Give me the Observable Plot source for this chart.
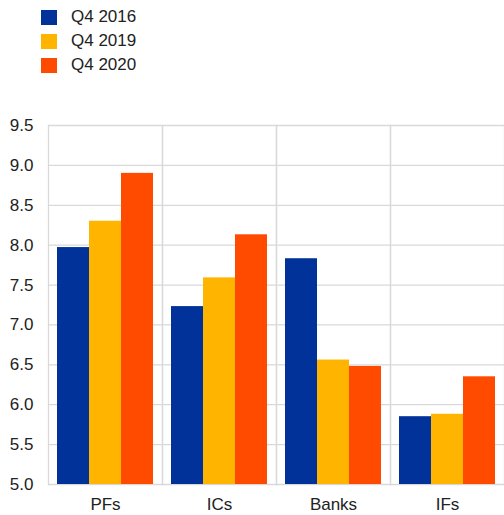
<!DOCTYPE html>
<html>
<head>
<meta charset="utf-8">
<script src="https://cdn.jsdelivr.net/npm/d3@7"></script>
<script src="https://cdn.jsdelivr.net/npm/@observablehq/plot@0.6"></script>
<style>
  html, body { margin: 0; padding: 0; background: #fff; }
  body { width: 504px; height: 515px; overflow: hidden; font-family: Arial, "Liberation Sans", sans-serif; color: #222; }
  #legend { position: relative; height: 90px; }
  .row { position: absolute; left: 41px; height: 16px; display: flex; align-items: center; font-size: 17px; }
  .sw { width: 16px; height: 15px; margin-right: 14px; }
  svg { display: block; }
</style>
</head>
<body>
<div id="legend"></div>
<div id="chart"></div>
<script>
const groups = ["PFs", "ICs", "Banks", "IFs"];
const series = ["Q4 2016", "Q4 2019", "Q4 2020"];
const q4_2016 = [7.97, 7.23, 7.83, 5.85];
const q4_2019 = [8.30, 7.59, 6.56, 5.88];
const q4_2020 = [8.90, 8.13, 6.48, 6.35];
const yTicks = [5.0, 5.5, 6.0, 6.5, 7.0, 7.5, 8.0, 8.5, 9.0, 9.5];
const yMin = 5.0, yMax = 9.5;
const colors = ["#003299", "#ffb400", "#ff4b00"];

const values = [q4_2016, q4_2019, q4_2020];
const data = [];
groups.forEach((g, gi) => series.forEach((s, si) => data.push({group: g, series: s, value: values[si][gi]})));

// legend
const legend = document.getElementById("legend");
series.forEach((s, i) => {
  const row = document.createElement("div");
  row.className = "row";
  row.style.top = (9 + i * 24) + "px";
  const sw = document.createElement("div");
  sw.className = "sw";
  sw.style.background = colors[i];
  row.appendChild(sw);
  const t = document.createElement("span");
  t.textContent = s;
  row.appendChild(t);
  legend.appendChild(row);
});

const chart = Plot.plot({
  width: 504,
  height: 425,
  marginTop: 35,
  marginBottom: 31,
  marginLeft: 48,
  marginRight: 0,
  style: {fontFamily: "Arial, 'Liberation Sans', sans-serif", fontSize: "17px", color: "#222", background: "#fff"},
  fx: {domain: groups, padding: 0, label: null, axis: "bottom", tickSize: 0, tickPadding: 13},
  x: {domain: series, paddingInner: 0, paddingOuter: 0.24, axis: null},
  y: {domain: [yMin, yMax], axis: null},
  color: {domain: series, range: colors},
  marks: [
    Plot.gridY(yTicks, {stroke: "#d9d9d9", strokeOpacity: 1, strokeWidth: 1.3}),
    Plot.frame({anchor: "left", stroke: "#d9d9d9", strokeWidth: 1.3}),
    Plot.frame({anchor: "right", stroke: "#d9d9d9", strokeWidth: 1.3}),
    Plot.barY(data, {fx: "group", x: "series", y1: yMin, y2: "value", fill: "series"}),
    Plot.axisY(yTicks, {tickSize: 0, tickPadding: 15, tickFormat: d3.format(".1f"), label: null, fill: "#222"})
  ]
});
document.getElementById("chart").appendChild(chart);
</script>
</body>
</html>
